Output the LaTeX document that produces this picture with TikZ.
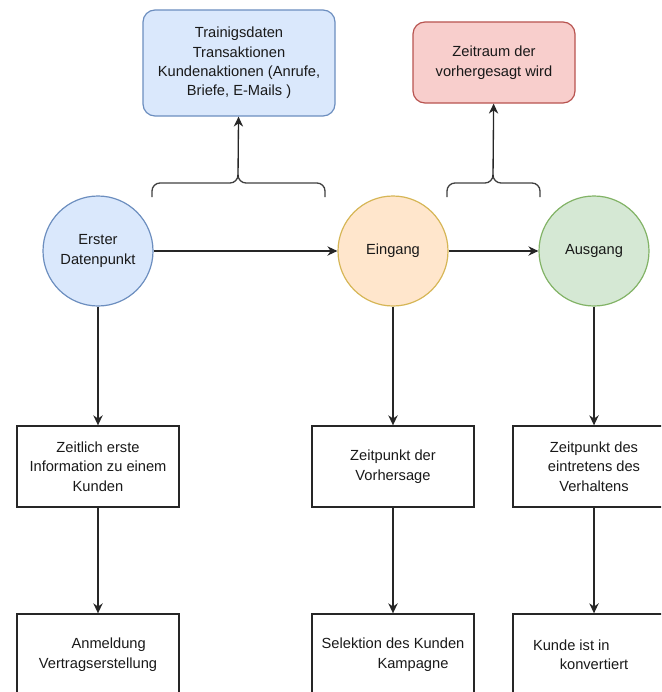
\documentclass[tikz,border=0pt]{standalone}
\usepackage{fontspec}
\setmainfont{Liberation Sans}
\usetikzlibrary{arrows.meta}
\definecolor{bluefill}{HTML}{DAE8FC}
\definecolor{bluedraw}{HTML}{6C8EBF}
\definecolor{redfill}{HTML}{F8CECC}
\definecolor{reddraw}{HTML}{B85450}
\definecolor{orangefill}{HTML}{FFE6CC}
\definecolor{orangedraw}{HTML}{D6B656}
\definecolor{greenfill}{HTML}{D5E8D4}
\definecolor{greendraw}{HTML}{82B366}
\tikzset{
  txt/.style={font=\fontsize{11}{14.6}\selectfont, align=center, text=black!90},
  point/.style={txt, circle, line width=0.9pt, minimum size=82.5pt, inner sep=0pt},
  info/.style={txt, rectangle, rounded corners=9pt, line width=0.9pt},
  stage/.style={txt, rectangle, draw=black!85, line width=1pt, minimum width=121.5pt, minimum height=60.75pt, inner sep=0pt},
  flow/.style={draw=black!85, line width=1pt, -{Stealth[length=7.5pt,width=7pt]}},
  brace/.style={draw=black!75, line width=1pt, rounded corners=6pt},
}
\begin{document}
\begin{tikzpicture}[x=0.75pt, y=-0.75pt]
      \useasboundingbox (0,0) rectangle (661,692);
      \clip (0,0) rectangle (661,692);
      % oben
      \node[info, fill=bluefill, draw=bluedraw, minimum width=144pt, minimum height=79.5pt] (train) at (239,63)
        {Trainigsdaten\\Transaktionen\\Kundenaktionen (Anrufe,\\Briefe, E-Mails )};
      \node[info, fill=redfill, draw=reddraw, minimum width=121.5pt, minimum height=60.75pt] (raum) at (494,62.5)
        {Zeitraum der\\vorhergesagt wird};
      % Kreise
      \node[point, fill=bluefill, draw=bluedraw] (first) at (98,251) {Erster\\Datenpunkt};
      \node[point, fill=orangefill, draw=orangedraw] (in) at (393,251) {Eingang};
      \node[point, fill=greenfill, draw=greendraw] (out) at (594,251) {Ausgang};
      % Mitte
      \node[stage] (z1) at (98,466.5) {Zeitlich erste\\Information zu einem\\Kunden};
      \node[stage] (z2) at (393,466.5) {Zeitpunkt der\\Vorhersage};
      \node[stage] (z3) at (594,466.5) {Zeitpunkt des\\eintretens des\\Verhaltens};
      % unten
      \node[stage] (u1) at (98,654.5) {\hspace*{16pt}Anmeldung\\Vertragserstellung};
      \node[stage] (u2) at (393,654.5) {Selektion des Kunden\\\hspace*{30pt}Kampagne};
      \node[stage] (u3) at (594,654.5) {Kunde ist in\hspace*{34pt}\\konvertiert};
      % Klammern
      \coordinate (bA-l) at (152,197);
      \coordinate (bA-r) at (325,197);
      \coordinate (bA-m) at (238,183);
      \coordinate (bA-t) at (238,177);
      \coordinate (bB-l) at (447,197);
      \coordinate (bB-r) at (540,197);
      \coordinate (bB-m) at (493,183);
      \coordinate (bB-t) at (493,177);
      \draw[brace] (bA-l) |- (bA-m) -- (bA-t);
      \draw[brace] (bA-r) |- (bA-m) -- (bA-t);
      \draw[brace] (bB-l) |- (bB-m) -- (bB-t);
      \draw[brace] (bB-r) |- (bB-m) -- (bB-t);
      \begin{scope}[flow]
        \draw (bA-t) -- (train);
        \draw (bB-t) -- (raum);
        \draw (first) -- (in);
        \draw (in) -- (out);
        \draw (first) -- (z1);
        \draw (in) -- (z2);
        \draw (out) -- (z3);
        \draw (z1) -- (u1);
        \draw (z2) -- (u2);
        \draw (z3) -- (u3);
      \end{scope}
    \end{tikzpicture}
\end{document}
